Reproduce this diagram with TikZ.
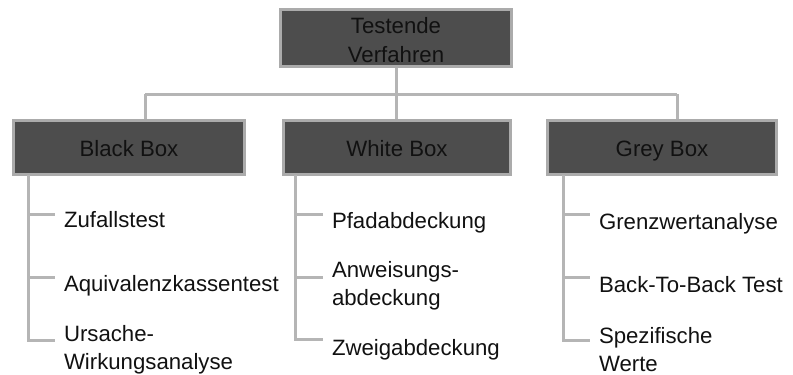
\documentclass[tikz,border=0pt]{standalone}
\usepackage{fontspec}
\setmainfont{Liberation Sans}
\definecolor{boxfill}{HTML}{4D4D4D}
\definecolor{boxline}{HTML}{ABABAB}
\definecolor{connline}{HTML}{B5B5B5}
\definecolor{labeltext}{HTML}{111111}
\tikzset{
  lbl/.style={font=\fontsize{22.2}{28}\selectfont, inner sep=0pt, outer sep=0pt,
    text=labeltext, align=left, anchor=base west},
  headbox/.style={draw=boxline, line width=3pt, fill=boxfill, inner sep=0pt,
    outer sep=0pt, font=\fontsize{22.2}{29}\selectfont, text=labeltext, align=center,
    text height=18pt, text depth=0pt},
  conn/.style={draw=connline, line width=3pt}
}
\begin{document}
\begin{tikzpicture}[x=1pt,y=-1pt]
\useasboundingbox (0,0) rectangle (793,375);

% bus coordinates
\coordinate (busL) at (145,94);
\coordinate (busR) at (677,94);
\coordinate (busM) at (396,94);

% connectors drawn first so the boxes sit on top
\draw[conn] (396,66) -- (busM);
\draw[conn] (busL) -- (busR);
\draw[conn] (busL) -- (145,120);
\draw[conn] (busM) -- (396,120);
\draw[conn] (busR) -- (677,120);

% root and category boxes
\node[headbox, minimum width=231pt, minimum height=57pt, text height=50pt] (root) at (396,37.5)
  {Testende\\Verfahren};
\node[headbox, minimum width=231pt, minimum height=54pt] (black) at (129,147.5) {Black Box};
\node[headbox, minimum width=227pt, minimum height=54pt] (white) at (397,147.5) {White Box};
\node[headbox, minimum width=229pt, minimum height=54pt] (grey) at (662,147) {Grey Box};

% Black Box items
\node[lbl] (b1) at (64,227) {Zufallstest};
\node[lbl] (b2) at (64,291) {Aquivalenzkassentest};
\node[lbl] (b3) at (64,369) {Ursache-\\Wirkungsanalyse};
\draw[conn] (28,175) -- (28,340) -- (55,340);
\draw[conn] (28,214) -- (55,214);
\draw[conn] (28,277) -- (55,277);

% White Box items
\node[lbl] (w1) at (332,228) {Pfadabdeckung};
\node[lbl] (w2) at (332,305) {Anweisungs-\\abdeckung};
\node[lbl] (w3) at (332,355) {Zweigabdeckung};
\draw[conn] (295,175) -- (295,339) -- (323,339);
\draw[conn] (295,214) -- (323,214);
\draw[conn] (295,277) -- (323,277);

% Grey Box items
\node[lbl] (g1) at (599,229) {Grenzwertanalyse};
\node[lbl] (g2) at (599,292) {Back-To-Back Test};
\node[lbl] (g3) at (599,371) {Spezifische\\Werte};
\draw[conn] (563,175) -- (563,340) -- (590,340);
\draw[conn] (563,214) -- (590,214);
\draw[conn] (563,277) -- (590,277);
\end{tikzpicture}
\end{document}
